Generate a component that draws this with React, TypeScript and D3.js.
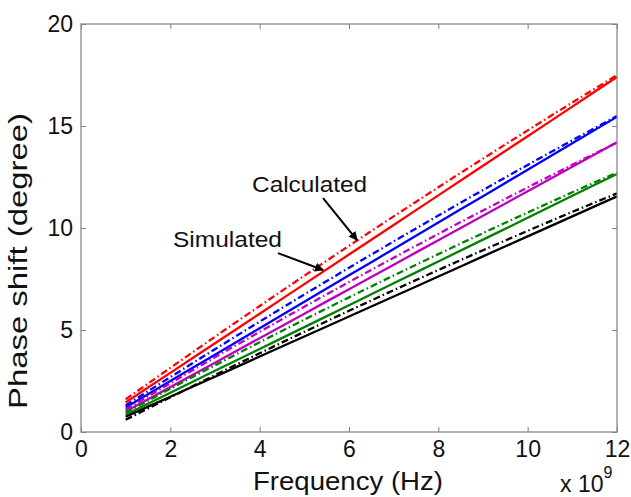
import { useEffect, useRef } from "react";
import * as d3 from "d3";

// frequency points in GHz
const freqGHz = [1, 2, 3, 4, 5, 6, 7, 8, 9, 10, 11, 12];

const redSim = [1.45, 2.9, 4.35, 5.8, 7.25, 8.7, 10.15, 11.6, 13.05, 14.5, 15.95, 17.4];
const redCalc = [1.6, 3.145, 4.67, 6.175, 7.66, 9.125, 10.57, 11.995, 13.4, 14.785, 16.15, 17.495];
const blueSim = [1.2, 2.5, 3.79, 5.09, 6.38, 7.68, 8.97, 10.27, 11.56, 12.86, 14.15, 15.45];
const blueCalc = [1.3, 2.69, 4.06, 5.41, 6.74, 8.05, 9.34, 10.61, 11.86, 13.09, 14.3, 15.49];
const magentaSim = [1.0, 2.2, 3.4, 4.6, 5.8, 7.0, 8.2, 9.4, 10.6, 11.8, 13.0, 14.2];
const magentaCalc = [1.1, 2.39, 3.66, 4.91, 6.14, 7.35, 8.54, 9.71, 10.86, 11.99, 13.1, 14.19];
const greenSim = [0.85, 1.92, 3.0, 4.07, 5.14, 6.21, 7.29, 8.36, 9.43, 10.5, 11.58, 12.65];
const greenCalc = [0.95, 2.12, 3.27, 4.4, 5.51, 6.6, 7.67, 8.72, 9.75, 10.76, 11.75, 12.72];
const blackSim = [0.75, 1.73, 2.71, 3.7, 4.68, 5.66, 6.64, 7.62, 8.61, 9.59, 10.57, 11.55];
const blackCalc = [0.6, 1.7, 2.79, 3.86, 4.91, 5.94, 6.95, 7.94, 8.91, 9.86, 10.79, 11.7];

const xTicks = [0, 2, 4, 6, 8, 10, 12];
const yTicks = [0, 5, 10, 15, 20];

// annotation anchors in data units (GHz, degree)
const calcLabel = { x: 3.83, y: 11.76, text: "Calculated" };
const calcArrow = { x1: 5.42, y1: 11.47, x2: 6.18, y2: 9.41 };
const simLabel = { x: 2.06, y: 9.07, text: "Simulated" };
const simArrow = { x1: 4.41, y1: 8.77, x2: 5.42, y2: 7.94 };

export default function App() {
  const ref = useRef<SVGSVGElement>(null);

  useEffect(() => {
    const svg = d3.select(ref.current);
    svg.selectAll("*").remove();

    const width = 631;
    const height = 497;
    const margin = { top: 24, right: 14, bottom: 65, left: 81 };
    const font = "Liberation Sans, Arial, sans-serif";

    const x = d3.scaleLinear().domain([0, 12]).range([margin.left, width - margin.right]);
    const y = d3.scaleLinear().domain([0, 20]).range([height - margin.bottom, margin.top]);

    const series = [
      { color: "#ff0000", sim: redSim, calc: redCalc },
      { color: "#0000ff", sim: blueSim, calc: blueCalc },
      { color: "#bf00bf", sim: magentaSim, calc: magentaCalc },
      { color: "#008000", sim: greenSim, calc: greenCalc },
      { color: "#000000", sim: blackSim, calc: blackCalc }
    ];

    const line = d3.line<number>()
      .x((_, i) => x(freqGHz[i]))
      .y(d => y(d))
      .curve(d3.curveMonotoneX);

    series.forEach(s => {
      svg.append("path")
        .attr("d", line(s.sim))
        .attr("fill", "none")
        .attr("stroke", s.color)
        .attr("stroke-width", 2.3);
      svg.append("path")
        .attr("d", line(s.calc))
        .attr("fill", "none")
        .attr("stroke", s.color)
        .attr("stroke-width", 2.3)
        .attr("stroke-dasharray", "7,3,1.5,3");
    });

    const axisColor = "#808080";
    const styleAxis = (g: any, labels: boolean) => {
      g.select(".domain").remove();
      g.selectAll(".tick line").attr("stroke", axisColor);
      g.selectAll(".tick text")
        .attr("fill", "#111")
        .attr("font-family", font)
        .attr("font-size", 23);
      if (!labels) g.selectAll(".tick text").remove();
    };

    svg.append("g")
      .attr("transform", `translate(0,${y(0)})`)
      .call(d3.axisBottom(x).tickValues(xTicks).tickFormat(d3.format("d")).tickSizeInner(-5).tickSizeOuter(0).tickPadding(9))
      .call((g: any) => styleAxis(g, true));
    svg.append("g")
      .attr("transform", `translate(0,${y(20)})`)
      .call(d3.axisTop(x).tickValues(xTicks).tickSizeInner(-5).tickSizeOuter(0))
      .call((g: any) => styleAxis(g, false));
    svg.append("g")
      .attr("transform", `translate(${x(0)},0)`)
      .call(d3.axisLeft(y).tickValues(yTicks).tickFormat(d3.format("d")).tickSizeInner(-5).tickSizeOuter(0).tickPadding(8))
      .call((g: any) => styleAxis(g, true));
    svg.append("g")
      .attr("transform", `translate(${x(12)},0)`)
      .call(d3.axisRight(y).tickValues(yTicks).tickSizeInner(-5).tickSizeOuter(0))
      .call((g: any) => styleAxis(g, false));

    svg.append("rect")
      .attr("x", x(0))
      .attr("y", y(20))
      .attr("width", x(12) - x(0))
      .attr("height", y(0) - y(20))
      .attr("fill", "none")
      .attr("stroke", axisColor)
      .attr("stroke-width", 1.2);

    // axis labels
    svg.append("text")
      .attr("x", 253)
      .attr("y", 490)
      .attr("font-family", font)
      .attr("font-size", 25)
      .attr("textLength", 190)
      .attr("lengthAdjust", "spacingAndGlyphs")
      .attr("fill", "#111")
      .text("Frequency (Hz)");

    svg.append("text")
      .attr("transform", "translate(27,261) rotate(-90)")
      .attr("text-anchor", "middle")
      .attr("font-family", font)
      .attr("font-size", 25)
      .attr("textLength", 296)
      .attr("lengthAdjust", "spacingAndGlyphs")
      .attr("fill", "#111")
      .text("Phase shift (degree)");

    const exp = svg.append("text")
      .attr("x", 560)
      .attr("y", 492)
      .attr("font-family", font)
      .attr("font-size", 23)
      .attr("fill", "#111");
    exp.append("tspan").text("x 10");
    exp.append("tspan").attr("dy", -14).attr("font-size", 16).text("9");

    // annotations
    const defs = svg.append("defs");
    defs.append("marker")
      .attr("id", "arrowhead")
      .attr("viewBox", "0 0 10 10")
      .attr("refX", 9)
      .attr("refY", 5)
      .attr("markerWidth", 9)
      .attr("markerHeight", 9)
      .attr("markerUnits", "userSpaceOnUse")
      .attr("orient", "auto")
      .append("path")
      .attr("d", "M0,0 L10,5 L0,10 z")
      .attr("fill", "#000");

    [calcArrow, simArrow].forEach(a => {
      svg.append("line")
        .attr("x1", x(a.x1))
        .attr("y1", y(a.y1))
        .attr("x2", x(a.x2))
        .attr("y2", y(a.y2))
        .attr("stroke", "#000")
        .attr("stroke-width", 2)
        .attr("marker-end", "url(#arrowhead)");
    });

    [
      { ...calcLabel, len: 115 },
      { ...simLabel, len: 109 }
    ].forEach(l => {
      svg.append("text")
        .attr("x", x(l.x))
        .attr("y", y(l.y))
        .attr("font-family", font)
        .attr("font-size", 22)
        .attr("textLength", l.len)
        .attr("lengthAdjust", "spacingAndGlyphs")
        .attr("fill", "#111")
        .text(l.text);
    });
  }, []);

  return (
    <svg
      ref={ref}
      width={631}
      height={497}
      style={{ position: "absolute", left: 0, top: 0, background: "#fff" }}
    ></svg>
  );
}
